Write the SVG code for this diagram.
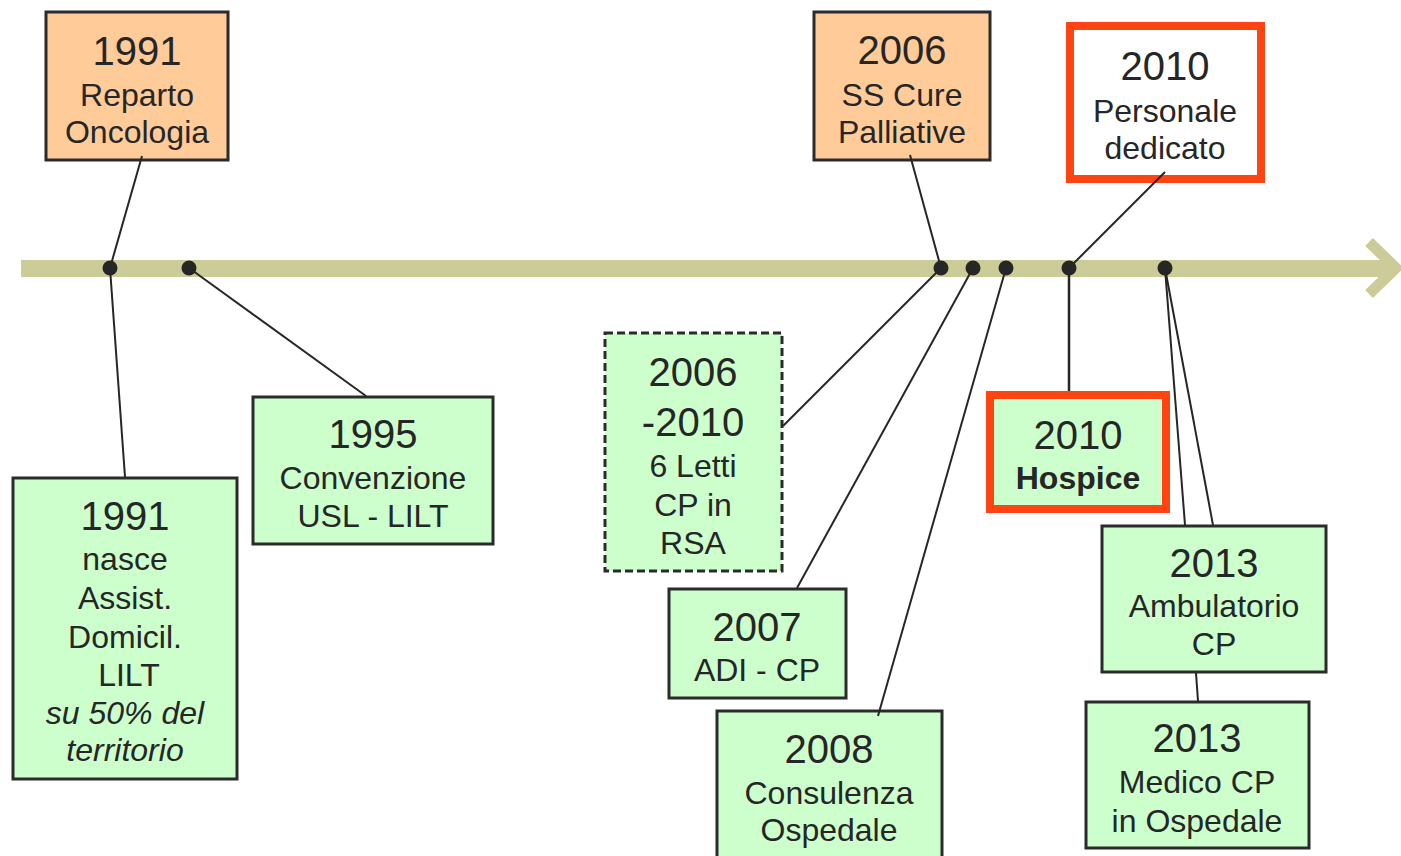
<svg xmlns="http://www.w3.org/2000/svg" width="1401" height="856" viewBox="0 0 1401 856">
<style>
  text { font-family: "Liberation Sans", Arial, sans-serif; fill: #262626; text-anchor: middle; }
  .yr { font-size: 40px; }
  .tx { font-size: 32px; }
  .it { font-style: italic; }
  .bd { font-weight: bold; }
  .orange { fill: #FFCC99; stroke: #2b2b2b; stroke-width: 3; }
  .green { fill: #CCFFCC; stroke: #2b2b2b; stroke-width: 3; }
  .dashed { fill: #CCFFCC; stroke: #2b2b2b; stroke-width: 3; stroke-dasharray: 8 4; }
  .red { stroke: #FF4411; stroke-width: 8; }
  .conn line { stroke: #262626; stroke-width: 2; }
  .dot { fill: #262626; }
</style>
<rect width="1401" height="856" fill="#FFFFFF"/>
<g id="axis">
  <rect x="21" y="260" width="1367" height="17" fill="#CCCC99"/>
  <polyline points="1369,242 1396,268 1369,294" fill="none" stroke="#CCCC99" stroke-width="11"/>
</g>
<g id="n1991-oncologia">
  <rect class="orange" x="46" y="12" width="182" height="148"/>
  <text class="yr" x="137" y="65">1991</text>
  <text class="tx" x="137" y="106">Reparto</text>
  <text class="tx" x="137" y="143">Oncologia</text>
</g>
<g id="n1991-assist">
  <rect class="green" x="13" y="478" width="224" height="301"/>
  <text class="yr" x="125" y="530">1991</text>
  <text class="tx" x="125" y="570">nasce</text>
  <text class="tx" x="125" y="609">Assist.</text>
  <text class="tx" x="125" y="648">Domicil.</text>
  <text class="tx" x="129" y="686">LILT</text>
  <text class="tx it" x="125" y="724">su 50% del</text>
  <text class="tx it" x="125" y="761">territorio</text>
</g>
<g id="n1995">
  <rect class="green" x="253" y="397" width="240" height="147"/>
  <text class="yr" x="373" y="448">1995</text>
  <text class="tx" x="373" y="489">Convenzione</text>
  <text class="tx" x="373" y="527">USL - LILT</text>
</g>
<g id="n2006-ss">
  <rect class="orange" x="814" y="12" width="176" height="148"/>
  <text class="yr" x="902" y="64">2006</text>
  <text class="tx" x="902" y="106">SS Cure</text>
  <text class="tx" x="902" y="143">Palliative</text>
</g>
<g id="n2010-personale">
  <rect class="red" x="1070" y="26" width="191" height="153" fill="#FFFFFF"/>
  <text class="yr" x="1165" y="80">2010</text>
  <text class="tx" x="1165" y="122">Personale</text>
  <text class="tx" x="1165" y="159">dedicato</text>
</g>
<g id="n2006-2010">
  <rect class="dashed" x="605" y="333" width="177" height="238"/>
  <text class="yr" x="693" y="386">2006</text>
  <text class="yr" x="693" y="436">-2010</text>
  <text class="tx" x="693" y="477">6 Letti</text>
  <text class="tx" x="693" y="516">CP in</text>
  <text class="tx" x="693" y="554">RSA</text>
</g>
<g id="n2007">
  <rect class="green" x="669" y="589" width="177" height="109"/>
  <text class="yr" x="757" y="641">2007</text>
  <text class="tx" x="757" y="681">ADI - CP</text>
</g>
<g id="n2008">
  <rect class="green" x="717" y="711" width="225" height="160"/>
  <text class="yr" x="829" y="763">2008</text>
  <text class="tx" x="829" y="804">Consulenza</text>
  <text class="tx" x="829" y="841">Ospedale</text>
</g>
<g id="n2010-hospice">
  <rect class="red" x="990" y="395" width="176" height="114" fill="#CCFFCC"/>
  <text class="yr" x="1078" y="449">2010</text>
  <text class="tx bd" x="1078" y="489">Hospice</text>
</g>
<g id="n2013-ambulatorio">
  <rect class="green" x="1102" y="526" width="224" height="146"/>
  <text class="yr" x="1214" y="577">2013</text>
  <text class="tx" x="1214" y="617">Ambulatorio</text>
  <text class="tx" x="1214" y="655">CP</text>
</g>
<g id="n2013-medico">
  <rect class="green" x="1086" y="702" width="223" height="146"/>
  <text class="yr" x="1197" y="752">2013</text>
  <text class="tx" x="1197" y="793">Medico CP</text>
  <text class="tx" x="1197" y="832">in Ospedale</text>
</g>
<g id="connectors" class="conn">
  <line x1="142" y1="156" x2="110" y2="268"/>
  <line x1="110" y1="268" x2="125" y2="477"/>
  <line x1="189" y1="268" x2="366" y2="396"/>
  <line x1="910" y1="155" x2="941" y2="268"/>
  <line x1="941" y1="268" x2="783" y2="426"/>
  <line x1="973" y1="268" x2="797" y2="588"/>
  <line x1="1006" y1="268" x2="878" y2="716"/>
  <line x1="1165" y1="172" x2="1069" y2="268"/>
  <line x1="1069" y1="268" x2="1069" y2="391" style="stroke-width:2.5"/>
  <line x1="1165" y1="268" x2="1185" y2="525"/>
  <line x1="1196" y1="673" x2="1198" y2="701"/>
  <line x1="1165" y1="268" x2="1213" y2="525"/>
</g>
<g id="dots">
  <circle class="dot" cx="110" cy="268" r="7.5"/>
  <circle class="dot" cx="189" cy="268" r="7.5"/>
  <circle class="dot" cx="941" cy="268" r="7.5"/>
  <circle class="dot" cx="973" cy="268" r="7.5"/>
  <circle class="dot" cx="1006" cy="268" r="7.5"/>
  <circle class="dot" cx="1069" cy="268" r="7.5"/>
  <circle class="dot" cx="1165" cy="268" r="7.5"/>
</g>
</svg>
